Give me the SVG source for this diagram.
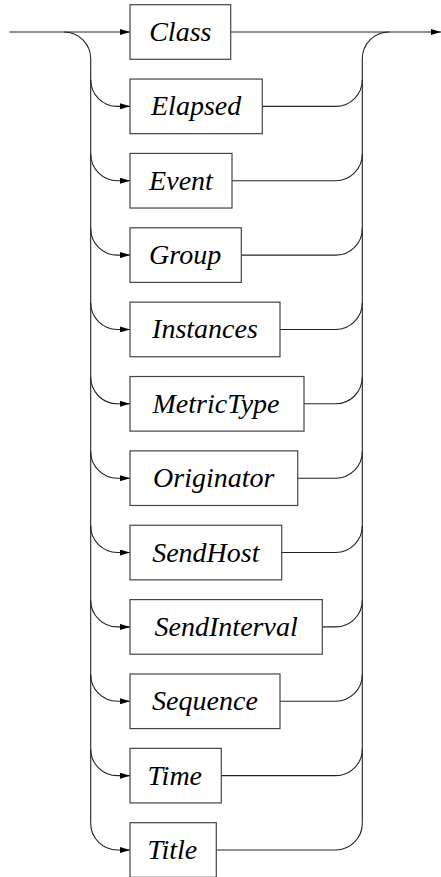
<svg xmlns="http://www.w3.org/2000/svg" width="441" height="877" viewBox="0 0 441 877">
<rect width="441" height="877" fill="#fff"/>
<defs>
<marker id="arr" viewBox="0 0 10 6" refX="10" refY="3" markerWidth="10" markerHeight="6" markerUnits="userSpaceOnUse" orient="auto">
<path d="M0,0 L10,3 L0,6 z" fill="#000"/>
</marker>
</defs>
<g id="connectors" fill="none" stroke="#222" stroke-width="1.1">
<path d="M9.5,32 H130" marker-end="url(#arr)"/>
<path d="M230.7,32 H441" marker-end="url(#arr)"/>
<path d="M64,32 A26.7,26.7 0 0 1 90.7,58.7 V823.3"/>
<path d="M362.3,823.3 V58.7 A26.7,26.7 0 0 1 389,32"/>
<path d="M90.7,79.66 A26.7,26.7 0 0 0 117.4,106.36 H130" marker-end="url(#arr)"/>
<path d="M90.7,154.03 A26.7,26.7 0 0 0 117.4,180.73 H130" marker-end="url(#arr)"/>
<path d="M90.7,228.39 A26.7,26.7 0 0 0 117.4,255.09 H130" marker-end="url(#arr)"/>
<path d="M90.7,302.75 A26.7,26.7 0 0 0 117.4,329.45 H130" marker-end="url(#arr)"/>
<path d="M90.7,377.12 A26.7,26.7 0 0 0 117.4,403.82 H130" marker-end="url(#arr)"/>
<path d="M90.7,451.48 A26.7,26.7 0 0 0 117.4,478.18 H130" marker-end="url(#arr)"/>
<path d="M90.7,525.85 A26.7,26.7 0 0 0 117.4,552.55 H130" marker-end="url(#arr)"/>
<path d="M90.7,600.21 A26.7,26.7 0 0 0 117.4,626.91 H130" marker-end="url(#arr)"/>
<path d="M90.7,674.57 A26.7,26.7 0 0 0 117.4,701.27 H130" marker-end="url(#arr)"/>
<path d="M90.7,748.94 A26.7,26.7 0 0 0 117.4,775.64 H130" marker-end="url(#arr)"/>
<path d="M90.7,823.3 A26.7,26.7 0 0 0 117.4,850 H130" marker-end="url(#arr)"/>
<path d="M262.3,106.36 H335.6 A26.7,26.7 0 0 0 362.3,79.66"/>
<path d="M232,180.73 H335.6 A26.7,26.7 0 0 0 362.3,154.03"/>
<path d="M241.3,255.09 H335.6 A26.7,26.7 0 0 0 362.3,228.39"/>
<path d="M280,329.45 H335.6 A26.7,26.7 0 0 0 362.3,302.75"/>
<path d="M304,403.82 H335.6 A26.7,26.7 0 0 0 362.3,377.12"/>
<path d="M297.7,478.18 H335.6 A26.7,26.7 0 0 0 362.3,451.48"/>
<path d="M281.7,552.55 H335.6 A26.7,26.7 0 0 0 362.3,525.85"/>
<path d="M322.3,626.91 H335.6 A26.7,26.7 0 0 0 362.3,600.21"/>
<path d="M280,701.27 H335.6 A26.7,26.7 0 0 0 362.3,674.57"/>
<path d="M221.3,775.64 H335.6 A26.7,26.7 0 0 0 362.3,748.94"/>
<path d="M216.3,850 H335.6 A26.7,26.7 0 0 0 362.3,823.3"/>
</g>
<g id="n-class"><rect x="130" y="4.7" width="100.7" height="54.6" fill="#fff" stroke="#444" stroke-width="1.2"/><text x="149.2" y="41" font-family="Liberation Serif" font-size="28" font-style="italic">Class</text></g>
<g id="n-elapsed"><rect x="130" y="79.06" width="132.3" height="54.6" fill="#fff" stroke="#444" stroke-width="1.2"/><text x="151" y="115.36" font-family="Liberation Serif" font-size="28" font-style="italic">Elapsed</text></g>
<g id="n-event"><rect x="130" y="153.43" width="102" height="54.6" fill="#fff" stroke="#444" stroke-width="1.2"/><text x="149.1" y="189.73" font-family="Liberation Serif" font-size="28" font-style="italic">Event</text></g>
<g id="n-group"><rect x="130" y="227.79" width="111.3" height="54.6" fill="#fff" stroke="#444" stroke-width="1.2"/><text x="149.1" y="264.09" font-family="Liberation Serif" font-size="28" font-style="italic">Group</text></g>
<g id="n-instances"><rect x="130" y="302.15" width="150" height="54.6" fill="#fff" stroke="#444" stroke-width="1.2"/><text x="152.1" y="338.45" font-family="Liberation Serif" font-size="28" font-style="italic">Instances</text></g>
<g id="n-metrictype"><rect x="130" y="376.52" width="174" height="54.6" fill="#fff" stroke="#444" stroke-width="1.2"/><text x="152.5" y="412.82" font-family="Liberation Serif" font-size="28" font-style="italic">MetricType</text></g>
<g id="n-originator"><rect x="130" y="450.88" width="167.7" height="54.6" fill="#fff" stroke="#444" stroke-width="1.2"/><text x="153.1" y="487.18" font-family="Liberation Serif" font-size="28" font-style="italic">Originator</text></g>
<g id="n-sendhost"><rect x="130" y="525.25" width="151.7" height="54.6" fill="#fff" stroke="#444" stroke-width="1.2"/><text x="152.2" y="561.55" font-family="Liberation Serif" font-size="28" font-style="italic">SendHost</text></g>
<g id="n-sendinterval"><rect x="130" y="599.61" width="192.3" height="54.6" fill="#fff" stroke="#444" stroke-width="1.2"/><text x="154.6" y="635.91" font-family="Liberation Serif" font-size="28" font-style="italic">SendInterval</text></g>
<g id="n-sequence"><rect x="130" y="673.97" width="150" height="54.6" fill="#fff" stroke="#444" stroke-width="1.2"/><text x="152.1" y="710.27" font-family="Liberation Serif" font-size="28" font-style="italic">Sequence</text></g>
<g id="n-time"><rect x="130" y="748.34" width="91.3" height="54.6" fill="#fff" stroke="#444" stroke-width="1.2"/><text x="147.6" y="784.64" font-family="Liberation Serif" font-size="28" font-style="italic">Time</text></g>
<g id="n-title"><rect x="130" y="822.7" width="86.3" height="54.6" fill="#fff" stroke="#444" stroke-width="1.2"/><text x="147.4" y="859" font-family="Liberation Serif" font-size="28" font-style="italic">Title</text></g>
</svg>
